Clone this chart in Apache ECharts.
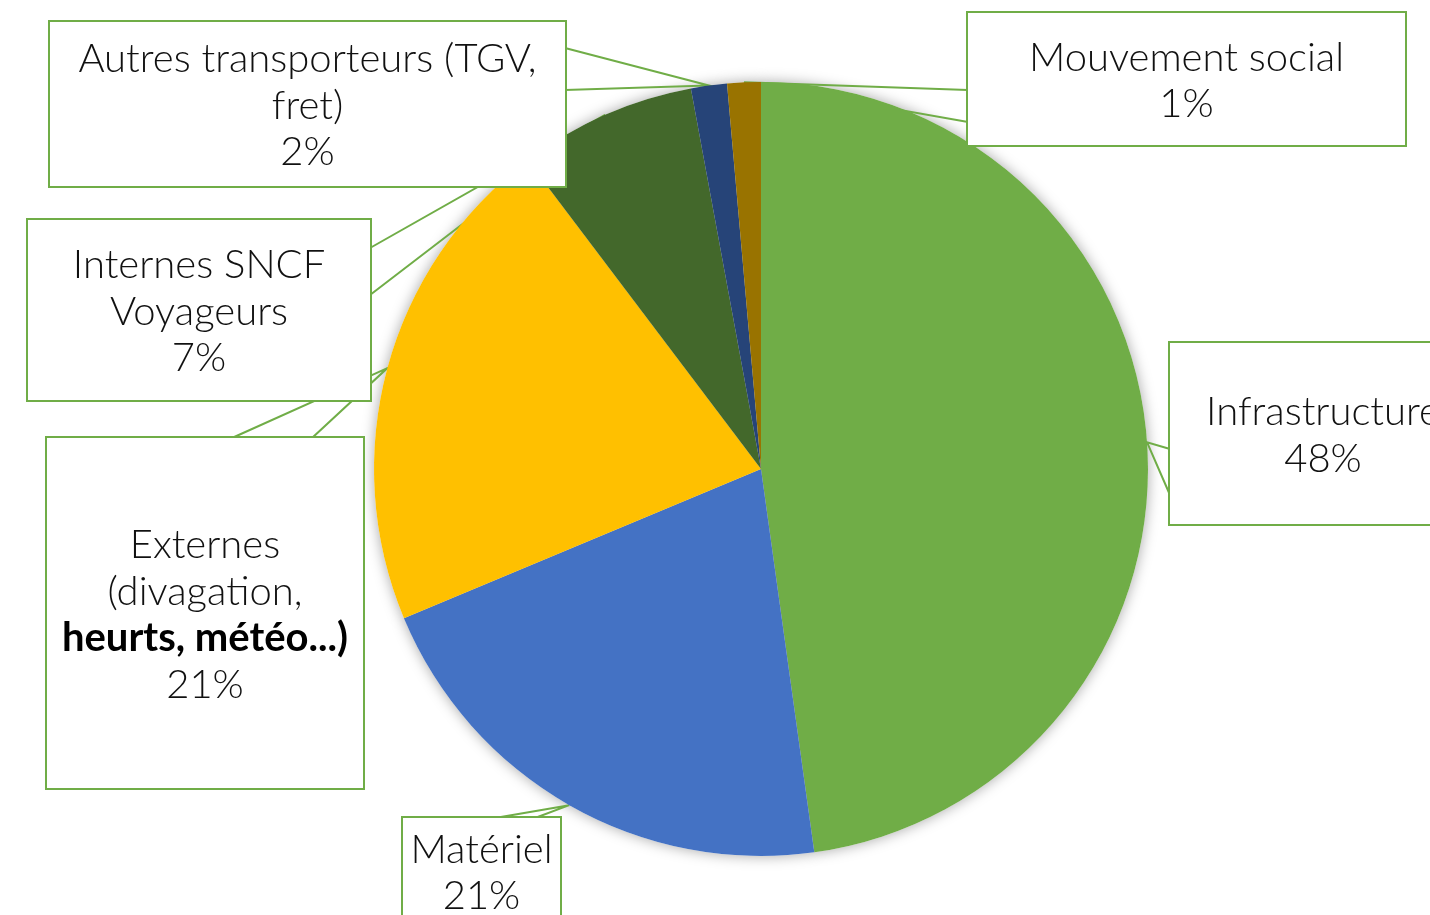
<!DOCTYPE html>
<html>
<head>
<meta charset="utf-8">
<script src="https://cdn.jsdelivr.net/npm/echarts@6/dist/echarts.min.js"></script>
<style>
  html, body { margin: 0; padding: 0; background: #fff; }
  #chart { width: 1430px; height: 915px; }
</style>
</head>
<body>
<div id="chart"></div>
<script>
// causes of delay, share in %, clockwise from 12 o'clock
const causes = [
  'Infrastructure',
  'Matériel',
  'Externes\n(divagation,\nheurts, météo...)',
  'Internes SNCF\nVoyageurs',
  'Autres transporteurs (TGV,\nfret)',
  'Mouvement social',
]
const shares = [47.8, 20.9, 21.0, 7.4, 1.5, 1.4]
const colors = ['#70AD47', '#4472C4', '#FFC000', '#43682B', '#264478', '#997300']
// line of each label that is set in bold (-1 = none)
const boldLine = [-1, -1, 2, -1, -1, -1]

/* callout boxes: top-left, size, and the two points where the tail leaves the box */
const LINE_H = 46.5
const boxes = [
  { x: 1170, y: 343, w: 306, h: 181, tail: [[1170, 449], [1170, 495]] },
  { x: 403, y: 818, w: 157, h: 106, tail: [[495, 818], [535, 818]] },
  { x: 47, y: 438, w: 316, h: 350, tail: [[232, 438], [312, 438]] },
  { x: 28, y: 220, w: 342, h: 180, tail: [[370, 248], [370, 295]] },
  { x: 50, y: 22, w: 515, h: 164, tail: [[565, 48], [565, 90]] },
  { x: 968, y: 13, w: 437, h: 132, tail: [[968, 90], [968, 122]] },
]
const GREEN = '#70AD47'

const chart = echarts.init(document.getElementById('chart'), null, { renderer: 'canvas' })

const data = causes.map((name, i) => {
  const b = boxes[i]
  const nLines = name.split('\n').length + 1
  const pad = (b.h - nLines * LINE_H) / 2
  return {
    name, value: shares[i],
    itemStyle: { color: colors[i] },
    label: { width: b.w, padding: [pad + 2, 0, pad - 2, 0] },
  }
})

const textBase = {
  fontFamily: 'Lato, "Open Sans", sans-serif', fontSize: 40, fontWeight: 300,
  color: '#111', lineHeight: LINE_H, align: 'center',
}

chart.setOption({
  animation: false,
  backgroundColor: '#fff',
  series: [
    // soft shadow under the whole disc
    {
      type: 'pie', silent: true, z: 1,
      center: [761, 469], radius: 387, startAngle: 90,
      data: shares.map((v, i) => ({ name: causes[i], value: v })),
      itemStyle: { color: '#fff', shadowBlur: 14, shadowColor: 'rgba(0,0,0,0.35)' },
      label: { show: false }, labelLine: { show: false },
    },
    {
      type: 'pie', z: 2,
      center: [761, 469], radius: 387, startAngle: 90,
      avoidLabelOverlap: false,
      data,
      itemStyle: { borderWidth: 0 },
      emphasis: { scale: false },
      label: {
        show: true, position: 'outside',
        backgroundColor: '#fff', borderColor: GREEN, borderWidth: 2,
        overflow: 'none',
        ...textBase,
        rich: {
          n: { ...textBase },
          b: { ...textBase, fontWeight: 700, color: '#000' },
        },
        formatter: p => {
          const lines = p.name.split('\n').map((t, k) =>
            k === boldLine[p.dataIndex] ? `{b|${t}}` : `{n|${t}}`)
          lines.push(`{n|${Math.round(p.value)}%}`)
          return lines.join('\n')
        },
      },
      labelLine: { show: true, length: 10, length2: 10,
        lineStyle: { color: GREEN, width: 2 } },
      labelLayout: params => {
        const b = boxes[params.dataIndex]
        const tip = params.labelLinePoints ? params.labelLinePoints[0] : null
        const out = { x: b.x + b.w / 2, y: b.y, align: 'center', verticalAlign: 'top' }
        if (tip) out.labelLinePoints = [b.tail[0], tip, b.tail[1]]
        return out
      },
    },
  ],
})
</script>
</body>
</html>
